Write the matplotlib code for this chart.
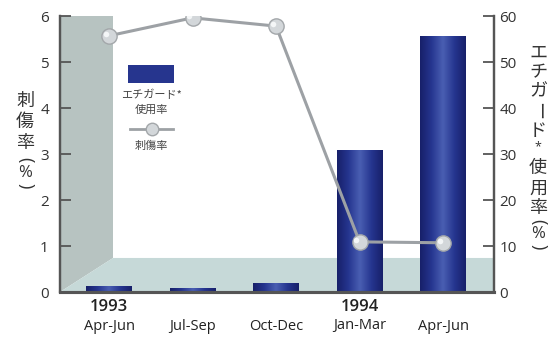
import numpy as np
import matplotlib
matplotlib.use("Agg")
from matplotlib import pyplot as plt
from matplotlib.colors import LinearSegmentedColormap
from matplotlib.patches import Polygon, Rectangle
from matplotlib.lines import Line2D

plt.rcParams["font.family"] = ["Open Sans", "Noto Sans CJK JP", "DejaVu Sans"]
JP = ["Noto Sans CJK JP", "DejaVu Sans"]
LAT = ["Open Sans", "DejaVu Sans"]

# data
years = ["1993", "", "", "1994", ""]
quarters = ["Apr-Jun", "Jul-Sep", "Oct-Dec", "Jan-Mar", "Apr-Jun"]
usage_rate = [1.4, 0.9, 1.9, 30.9, 55.6]      # right axis, bars (%)
injury_rate = [5.57, 5.96, 5.78, 1.09, 1.07]  # left axis, line (%)

W, H = 555, 337
fig = plt.figure(figsize=(W / 100, H / 100), dpi=100)

def fx(x):
    return x / W

def fy(y):
    return 1 - y / H

# axes box in pixels: x 60..494, y 16..292
ax = fig.add_axes([fx(60), fy(292), fx(494) - fx(60), fy(16) - fy(292)])
ax2 = ax.twinx()
ax.set_zorder(2)
ax.patch.set_visible(False)

x = np.arange(len(quarters))
xl = (-0.587, 4.61)
ax.set_xlim(*xl)
ax.set_ylim(0, 6)
ax2.set_ylim(0, 60)

# 3D-ish background: wall on the left and floor
wall_r = 0.048
floor_top = 7.4
ax2.add_patch(Polygon([(xl[0], 0), (xl[0], 60), (wall_r, 60), (wall_r, floor_top)],
                      closed=True, facecolor="#b7c3c1", edgecolor="none", zorder=0))
ax2.add_patch(Polygon([(xl[0], 0), (wall_r, floor_top), (xl[1], floor_top), (xl[1], 0)],
                      closed=True, facecolor="#c6d9d8", edgecolor="none", zorder=0))

# bars with horizontal gradient
cmap = LinearSegmentedColormap.from_list(
    "bar", ["#17206a", "#263690", "#4a5fb2", "#263690", "#17206a"])
grad = np.linspace(0, 1, 64).reshape(1, -1)
bw = 0.55
bars = ax2.bar(x, usage_rate, width=bw, color="#24328a", zorder=1)
for b in bars:
    x0, w_, h_ = b.get_x(), b.get_width(), b.get_height()
    im = ax2.imshow(grad, extent=[x0, x0 + w_, 0, h_], aspect="auto",
                    cmap=cmap, zorder=1.5)
    im.set_clip_path(b)
ax2.set_xlim(*xl)
ax2.set_ylim(0, 60)

# injury line
ax.plot(x, injury_rate, color="#9da1a5", lw=2.2, zorder=3)
ax.plot(x, injury_rate, "o", ms=11, mfc="#d3d7da", mec="#a3a7aa", mew=1, zorder=4)
ax.plot(np.array(x) - 0.04, np.array(injury_rate) + 0.04, "o", ms=4,
        mfc="#f4f6f7", mec="none", zorder=5)

# spines and ticks
for a in (ax, ax2):
    a.spines["top"].set_visible(False)
    for s in ("left", "right", "bottom"):
        a.spines[s].set_color("#555555")
    a.spines["left"].set_linewidth(1.6)
    a.spines["right"].set_linewidth(1.6)
    a.spines["bottom"].set_linewidth(2.2)

ax.set_yticks(range(7))
ax.tick_params(axis="y", direction="in", length=8, width=1.3, color="#555555",
               labelsize=11, labelcolor="#333333", pad=8)
ax2.set_yticks(range(0, 61, 10))
ax2.tick_params(axis="y", direction="in", length=8, width=1.3, color="#555555",
                labelsize=11, labelcolor="#333333", pad=4)
ax.set_xticks([])
ax2.set_xticks([])

# x labels
for i in range(len(quarters)):
    xp = ax.transData.transform((x[i], 0))[0]
    xfig = fig.transFigure.inverted().transform((xp, 0))[0]
    if years[i]:
        fig.text(xfig, fy(307), years[i], ha="center", va="center",
                 fontsize=12, fontweight="semibold", color="#222222")
    fig.text(xfig, fy(326), quarters[i], ha="center", va="center",
             fontsize=10.5, color="#222222")

# vertical japanese labels (stacked characters)
def vtext(xpx, items):
    for ch, ypx, size, rot in items:
        fam = LAT if ch in "()%*" else JP
        fig.text(fx(xpx), fy(ypx), ch, ha="center", va="center", fontsize=size,
                 rotation=rot, family=fam, color="#333333")

vtext(25, [("刺", 101, 13, 0), ("傷", 122, 13, 0), ("率", 143, 13, 0),
           ("(", 160, 13, 270), ("%", 173, 12, 0), (")", 186, 13, 270)])
vtext(538, [("エ", 53, 13, 0), ("チ", 72, 13, 0), ("ガ", 91, 13, 0),
            ("ー", 111, 13, 270), ("ド", 131, 13, 0), ("*", 147, 9, 0),
            ("使", 168, 13, 0), ("用", 189, 13, 0), ("率", 208, 13, 0),
            ("(", 222, 13, 270), ("%", 234, 12, 0), (")", 247, 13, 270)])

# legend drawn by hand
leg_bar = Rectangle((fx(128), fy(83)), fx(174) - fx(128), fy(65) - fy(83),
                    transform=fig.transFigure, facecolor="#26358e",
                    edgecolor="none", zorder=5)
fig.patches.append(leg_bar)
fig.text(fx(151), fy(95), "エチガード*", ha="center", va="center", fontsize=8,
         family=JP, color="#444444")
fig.text(fx(151), fy(110), "使用率", ha="center", va="center", fontsize=8,
         family=JP, color="#444444")
fig.lines.append(Line2D([fx(130), fx(173)], [fy(129), fy(129)],
                        transform=fig.transFigure, color="#9da1a5", lw=2))
fig.lines.append(Line2D([fx(152)], [fy(129)], transform=fig.transFigure,
                        marker="o", ms=9, mfc="#d3d7da", mec="#a3a7aa"))
fig.text(fx(151), fy(146), "刺傷率", ha="center", va="center", fontsize=8,
         family=JP, color="#444444")

fig.savefig("out.png", dpi=100)
